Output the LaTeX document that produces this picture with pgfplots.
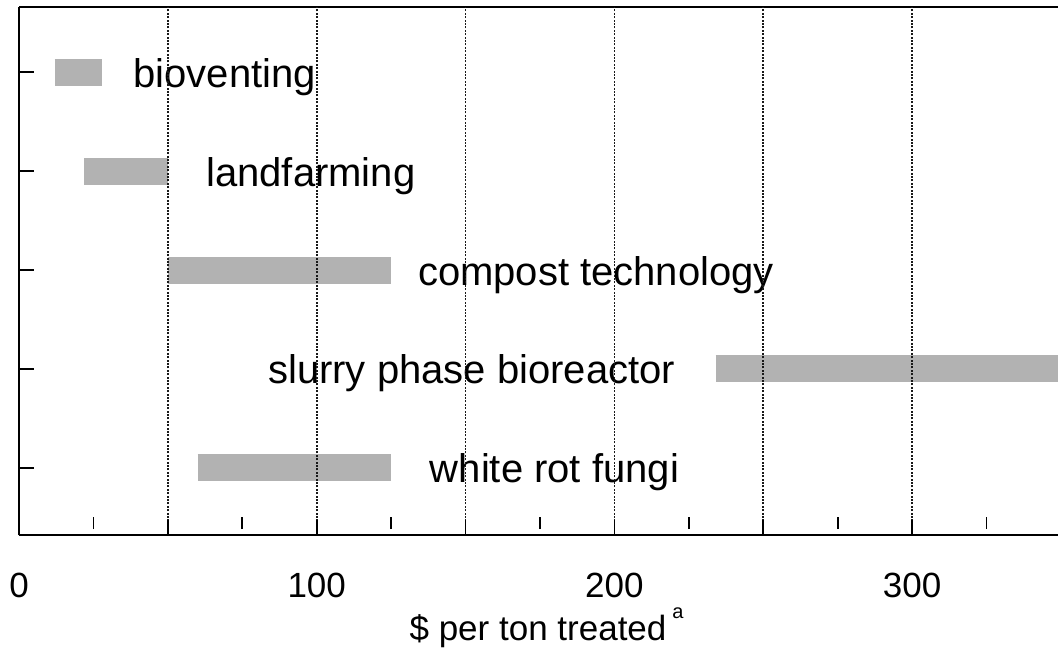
\documentclass[border=0pt]{standalone}
\usepackage{pgfplots}
\pgfplotsset{compat=1.18}
\usepackage{fontspec}
\setmainfont{Liberation Sans}
\usetikzlibrary{calc}

\definecolor{barGray}{RGB}{178,178,178}

\begin{document}
\begin{tikzpicture}
  \begin{axis}[
    scale only axis,
    width=519.5pt, height=264pt,
    xmin=0, xmax=349, ymin=0.323, ymax=5.657,
    axis lines*=left,
    axis line style={line width=1pt},
    axis on top,
    xtick={0,50,...,300},
    xticklabels={0,,100,,200,,300},
    minor xtick={25,75,...,325},
    ytick={1,2,3,4,5},
    yticklabels={},
    tick align=inside,
    major tick length=7.5pt,
    minor tick length=6pt,
    xmajorgrids=true,
    grid style={black!90, line width=0.8pt, dash pattern=on 1pt off 0.7pt},
    tick style={black, line width=0.8pt},
    minor x tick style={yshift=3pt},
    xticklabel style={font=\fontsize{17.5}{20}\selectfont, anchor=base, inner sep=0pt, yshift=-31pt},
    xlabel={\$ per ton treated\,\raisebox{0.62em}{\fontsize{10}{12}\selectfont a}},
    xlabel style={font=\fontsize{17.5}{20}\selectfont, at={(axis description cs:0.5,0)},
                  anchor=base, yshift=-52.5pt, xshift=4pt, inner sep=0pt},
    clip=false,
  ]
    % cost range of each treatment (low, high)
    \addplot[barGray, line width=13.5pt] coordinates {(12,5) (28,5)};
    \addplot[barGray, line width=13.5pt] coordinates {(22,4) (50,4)};
    \addplot[barGray, line width=13.5pt] coordinates {(50,3) (125,3)};
    \addplot[barGray, line width=13.5pt] coordinates {(234,2) (349,2)};
    \addplot[barGray, line width=13.5pt] coordinates {(60,1) (125,1)};

    \begin{scope}[every node/.style={inner sep=0pt, font=\fontsize{20}{24}\selectfont}]
      \node[anchor=base west, yshift=-7.5pt] at (axis cs:38.3,5) {bioventing};
      \node[anchor=base west, yshift=-7.5pt] at (axis cs:62.8,4) {landfarming};
      \node[anchor=base west, yshift=-7.5pt] at (axis cs:133.9,3) {compost technology};
      \node[anchor=base east, yshift=-7.5pt] at (axis cs:220.5,2) {slurry phase bioreactor};
      \node[anchor=base west, yshift=-7.5pt] at (axis cs:137.9,1) {white rot fungi};
    \end{scope}

    \draw[line width=1pt] (rel axis cs:0,1) -- (rel axis cs:1,1);
  \end{axis}
  \pgfresetboundingbox
  \path[use as bounding box] ($(current axis.south west)+(-9.5pt,-61pt)$)
    rectangle ($(current axis.north east)+(0pt,3.5pt)$);
\end{tikzpicture}
\end{document}
